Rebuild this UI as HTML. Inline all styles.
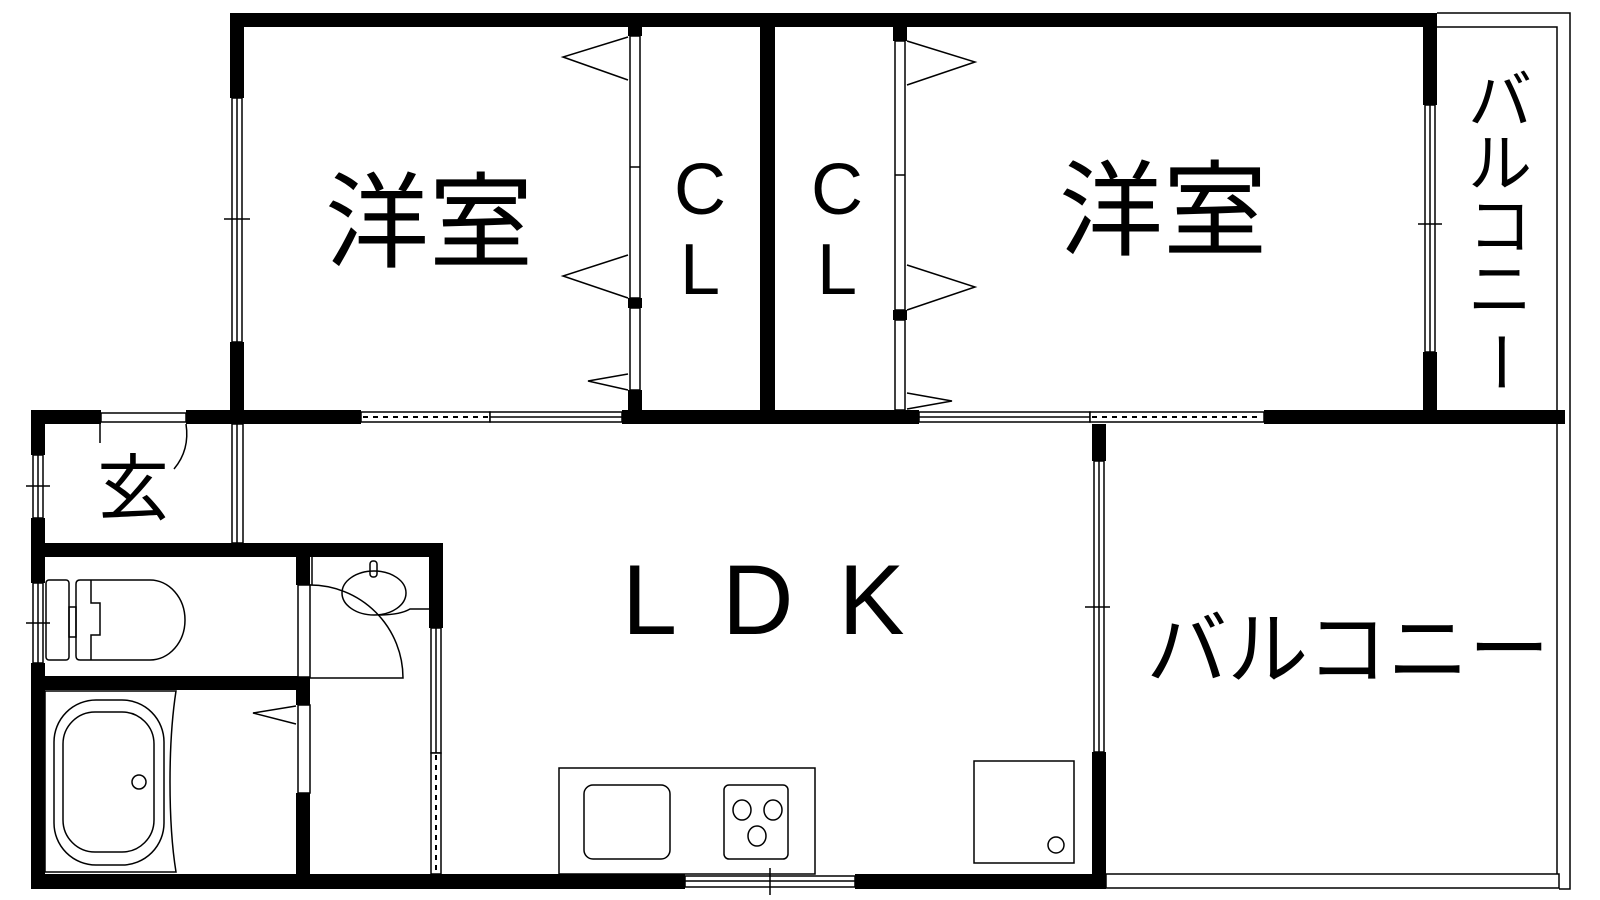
<!DOCTYPE html>
<html><head><meta charset="utf-8"><style>
html,body{margin:0;padding:0;background:#fff;}
svg{display:block;}
.j{font-family:"Liberation Sans","Noto Sans CJK JP",sans-serif;}
.l{font-family:"Liberation Sans",sans-serif;}
</style></head><body>
<svg width="1600" height="900" viewBox="0 0 1600 900" xmlns="http://www.w3.org/2000/svg">
<g fill="#000">
<rect x="230" y="13" width="1207" height="14"/>
<rect x="230" y="13" width="14" height="85"/>
<rect x="230" y="342" width="14" height="82"/>
<rect x="760" y="13" width="15" height="411"/>
<rect x="1423" y="13" width="14" height="92"/>
<rect x="1423" y="352" width="14" height="72"/>
<rect x="31" y="410" width="70" height="14"/>
<rect x="186" y="410" width="175" height="14"/>
<rect x="622" y="410" width="297" height="14"/>
<rect x="1264" y="410" width="301" height="14"/>
<rect x="628" y="27" width="14" height="9"/>
<rect x="628" y="298" width="14" height="10"/>
<rect x="628" y="390" width="14" height="22"/>
<rect x="893" y="27" width="14" height="14"/>
<rect x="893" y="310" width="14" height="10"/>
<rect x="31" y="410" width="14" height="45"/>
<rect x="31" y="518" width="14" height="65"/>
<rect x="31" y="663" width="14" height="226"/>
<rect x="31" y="543" width="412" height="14"/>
<rect x="429" y="543" width="14" height="85"/>
<rect x="296" y="557" width="14" height="28"/>
<rect x="31" y="676" width="279" height="14"/>
<rect x="296" y="690" width="14" height="15"/>
<rect x="296" y="793" width="14" height="82"/>
<rect x="31" y="874" width="654" height="15"/>
<rect x="855" y="874" width="251" height="15"/>
<rect x="1092" y="424" width="14" height="37"/>
<rect x="1092" y="752" width="14" height="137"/>
</g>
<g fill="#fff" stroke="#000" stroke-width="1.5">
<rect x="232" y="98" width="10" height="244"/>
<rect x="232" y="424" width="11" height="119"/>
<rect x="630" y="36" width="10" height="262"/>
<rect x="630" y="308" width="10" height="82"/>
<rect x="895" y="41" width="10" height="269"/>
<rect x="895" y="320" width="10" height="90"/>
<rect x="1425" y="105" width="10" height="247"/>
<rect x="33" y="455" width="10" height="63"/>
<rect x="33" y="583" width="10" height="80"/>
<rect x="101" y="413" width="85" height="9"/>
<rect x="361" y="412" width="129" height="10"/>
<rect x="490" y="412" width="132" height="10"/>
<rect x="919" y="412" width="171" height="10"/>
<rect x="1090" y="412" width="174" height="10"/>
<rect x="431" y="628" width="10" height="125"/>
<rect x="431" y="753" width="10" height="121"/>
<rect x="298" y="585" width="12" height="92"/>
<rect x="298" y="705" width="12" height="88"/>
<rect x="685" y="876" width="170" height="11"/>
<rect x="1094" y="461" width="10" height="291"/>
<rect x="1106" y="874" width="453" height="14"/>
</g>
<g stroke="#000" stroke-width="1.5" fill="none">
<line x1="237" y1="98" x2="237" y2="342"/>
<line x1="237" y1="424" x2="237" y2="543"/>
<line x1="1430" y1="105" x2="1430" y2="352"/>
<line x1="38" y1="455" x2="38" y2="518"/>
<line x1="38" y1="583" x2="38" y2="663"/>
<line x1="436" y1="628" x2="436" y2="753"/>
<line x1="1099" y1="461" x2="1099" y2="752"/>
<line x1="630" y1="167" x2="640" y2="167"/>
<line x1="895" y1="175" x2="905" y2="175"/>
<line x1="490" y1="417" x2="622" y2="417"/>
<line x1="919" y1="417" x2="1090" y2="417"/>
<line x1="685" y1="881" x2="855" y2="881"/>
<line x1="363" y1="417" x2="488" y2="417" stroke-dasharray="5,5" stroke-width="2"/>
<line x1="1092" y1="417" x2="1262" y2="417" stroke-dasharray="5,5" stroke-width="2"/>
<line x1="436" y1="755" x2="436" y2="872" stroke-dasharray="5,5" stroke-width="2"/>
<line x1="224" y1="219" x2="250" y2="219"/>
<line x1="1418" y1="224" x2="1442" y2="224"/>
<line x1="26" y1="486" x2="50" y2="486"/>
<line x1="26" y1="623" x2="50" y2="623"/>
<line x1="1085" y1="607" x2="1110" y2="607"/>
<line x1="770" y1="868" x2="770" y2="895"/>
<polyline points="628,37 563,57 628,80"/>
<polyline points="628,255 563,276 628,298"/>
<polyline points="628,374 588,381 628,390"/>
<polyline points="907,41 975,62 907,85"/>
<polyline points="907,265 975,287 907,310"/>
<polyline points="907,393 952,401 907,409"/>
<polyline points="296,706 253,713 296,724"/>
<polyline points="1437,13 1570,13 1570,889 1559,889"/>
<polyline points="1437,27 1557,27 1557,874"/>
<line x1="100" y1="424" x2="100" y2="443"/>
<path d="M186,424 Q190,450 174,469"/>
<path d="M310,585 A93,93 0 0 1 403,678 L310,678"/>
<line x1="312" y1="557" x2="312" y2="585"/>
<ellipse cx="374" cy="593" rx="32" ry="22"/>
<path d="M378,615 Q400,615 410,609 L429,609"/>
<rect x="370" y="561" width="7" height="16" rx="3"/>
<rect x="46" y="580" width="23" height="80" rx="3"/>
<rect x="69" y="607" width="7" height="30"/>
<path d="M80,580 H150 A35,40 0 0 1 150,660 H80 Q76,660 76,656 V584 Q76,580 80,580 Z"/>
<path d="M91,580 V603 H100 V635 H91 V660"/>
<path d="M45,691 H176 Q170,730 170,782 Q170,835 176,872 H45 Z"/>
<rect x="54" y="700" width="110" height="165" rx="42"/>
<rect x="63" y="712" width="91" height="140" rx="32"/>
<circle cx="139" cy="782" r="7"/>
<rect x="559" y="768" width="256" height="106"/>
<rect x="584" y="785" width="86" height="74" rx="9"/>
<rect x="724" y="785" width="64" height="74" rx="5"/>
<ellipse cx="742" cy="810" rx="9" ry="10"/>
<ellipse cx="773" cy="810" rx="9" ry="10"/>
<ellipse cx="757" cy="836" rx="9" ry="10"/>
<rect x="974" y="761" width="100" height="102"/>
<circle cx="1056" cy="845" r="8"/>
</g>
<g fill="#000">
<text class="j" x="429" y="259" font-size="104" text-anchor="middle">洋室</text>
<text class="j" x="1163" y="247" font-size="104" text-anchor="middle">洋室</text>
<text class="j" x="133" y="514" font-size="72" text-anchor="middle">玄</text>
<text class="l" x="700" y="214" font-size="72" text-anchor="middle">C</text>
<text class="l" x="700" y="294" font-size="72" text-anchor="middle">L</text>
<text class="l" x="837" y="214" font-size="72" text-anchor="middle">C</text>
<text class="l" x="837" y="294" font-size="72" text-anchor="middle">L</text>
<text class="l" x="622" y="634" font-size="99" letter-spacing="45">LDK</text>
<text class="j" x="1348" y="678" font-size="81" text-anchor="middle">バルコニー</text>
<g class="j" font-size="64" text-anchor="middle">
<text x="1500" y="123">バ</text>
<text x="1500" y="186">ル</text>
<text x="1500" y="249">コ</text>
<text x="1500" y="312">ニ</text>
<text x="1500" y="385" transform="rotate(90 1500 362)">ー</text>
</g>
</g>
</svg>
</body></html>
